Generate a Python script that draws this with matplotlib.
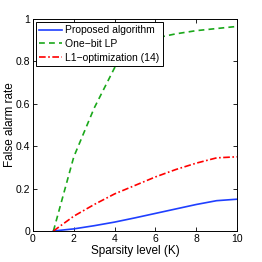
import matplotlib
matplotlib.use("Agg")
import matplotlib.pyplot as plt

plt.rcParams['font.family'] = ['Liberation Sans', 'DejaVu Sans']

K = [1, 2, 3, 4, 5, 6, 7, 8, 9, 10]
proposed = [0, 0.01, 0.025, 0.042, 0.062, 0.083, 0.104, 0.125, 0.143, 0.15]
onebit = [0, 0.35, 0.58, 0.77, 0.865, 0.91, 0.93, 0.945, 0.955, 0.965]
l1opt = [0, 0.07, 0.125, 0.175, 0.215, 0.255, 0.29, 0.32, 0.345, 0.35]

fig = plt.figure(figsize=(2.62, 2.62), dpi=100)
ax = fig.add_axes([33/262, 1-231/262, (237-33)/262, (231-19)/262])

ax.plot(K, proposed, color='#1f3fff', lw=1.2, ls='-', label='Proposed algorithm')
ax.plot(K, onebit, color='#1aa81a', lw=1.2, ls=(0, (3.5, 2.5)), label='One\u2212bit LP')
ax.plot(K, l1opt, color='#ff0000', lw=1.2, ls=(0, (4, 1.5, 1, 1.5)), label='L1\u2212optimization (14)')

ax.set_xlim(0, 10)
ax.set_ylim(0, 1)
ax.set_xticks([0, 2, 4, 6, 8, 10])
ax.set_yticks([0, 0.2, 0.4, 0.6, 0.8, 1])
ax.set_yticklabels(['0', '0.2', '0.4', '0.6', '0.8', '1'])
ax.tick_params(direction='in', top=True, right=True, labelsize=7.5, length=3, width=0.6, pad=2)
for s in ax.spines.values():
    s.set_linewidth(0.7)
ax.set_xlabel('Sparsity level (K)', fontsize=8.5, labelpad=1)
ax.set_ylabel('False alarm rate', fontsize=8.5, labelpad=-0.5)

leg = ax.legend(loc='upper left', fontsize=7.5, handlelength=2.2, handletextpad=0.3,
                borderpad=0.35, labelspacing=0.35, borderaxespad=0.25, fancybox=False,
                framealpha=1, edgecolor='black')
leg.get_frame().set_linewidth(0.7)

fig.savefig('out.png', dpi=100)
